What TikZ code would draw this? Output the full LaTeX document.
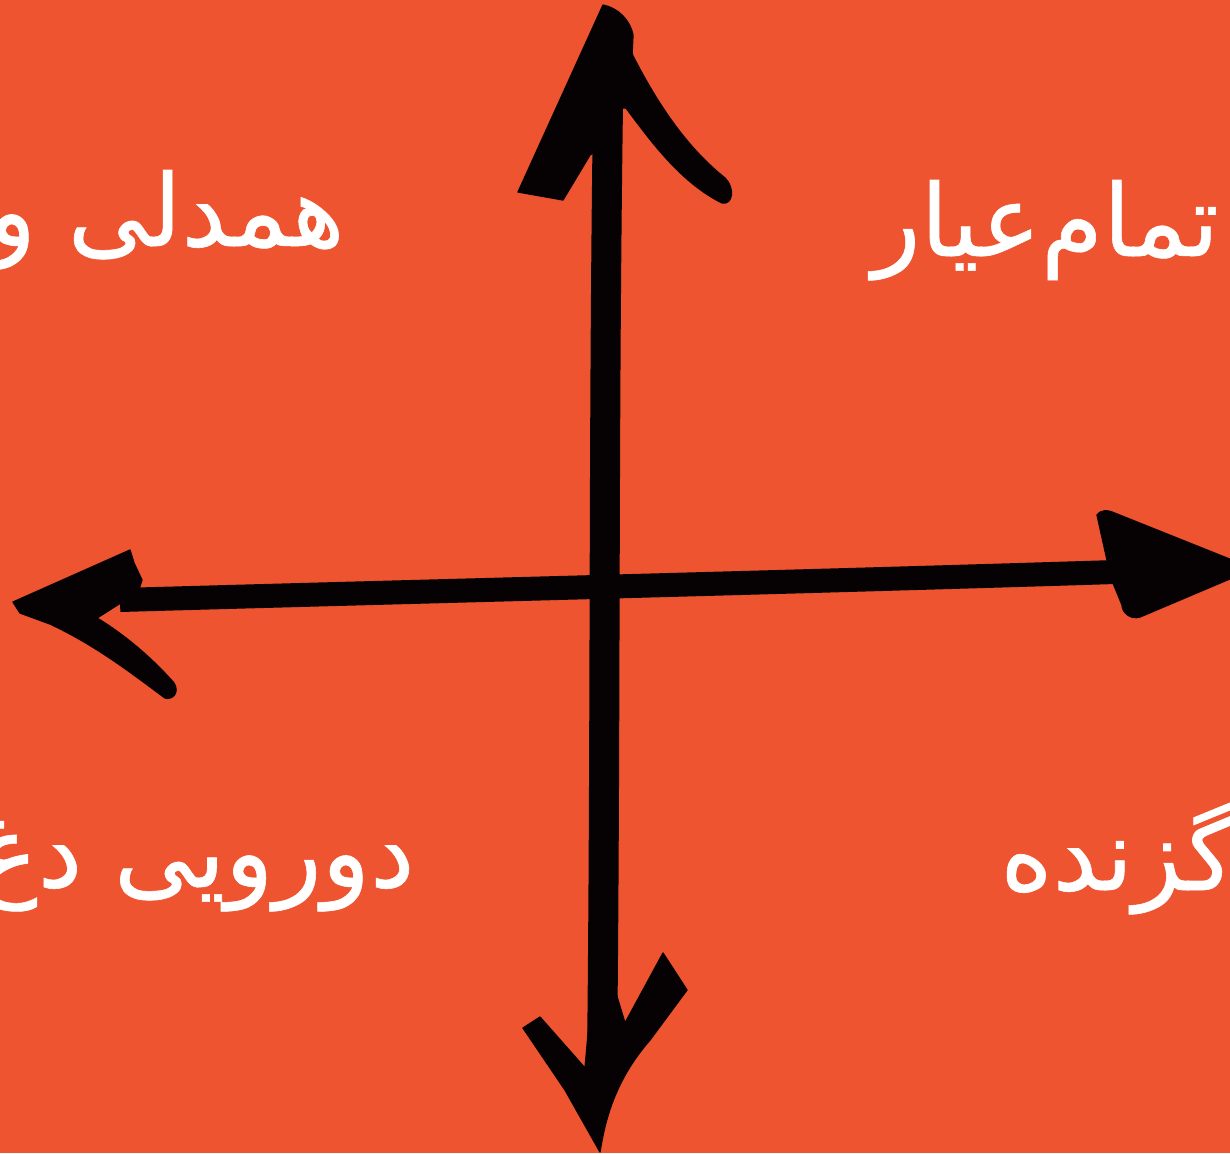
\documentclass[tikz,border=0pt]{standalone}
\usepackage{fontspec}
\newfontfamily\arabicfont[Script=Arabic,FakeBold=0.6]{DejaVu Sans}
\TeXXeTstate=1
\definecolor{bgorange}{HTML}{EF5430}
\definecolor{ink}{HTML}{060204}
\begin{document}
\begin{tikzpicture}[x=0.75pt,y=-0.75pt,
  head/.style={fill=ink,draw=ink,line width=1pt,line join=round},
  vshaft/.style={draw=ink,line width=22.5pt,line cap=butt},
  hshaft/.style={draw=ink,line width=18pt,line cap=butt},
  qtext/.style={text=white,font=\arabicfont\fontsize{75}{80}\selectfont,inner sep=0pt}]
\fill[bgorange] (0,0) rectangle (1230,1153);
\useasboundingbox (0,0) rectangle (1230,1153);
% texts
\node[qtext,anchor=base east] (tl) at (345,246) {\beginR همدلی و\endR};
\node[qtext,anchor=base west] (tr) at (872,256) {\beginR تمام‌عیار\endR};
\node[qtext,anchor=base east] (bl) at (415,887) {\beginR دورویی دغ\endR};
\node[qtext,anchor=base west] (br) at (1000,890) {\beginR گزنده\endR};
% shafts
\draw[vshaft] (609,40) .. controls (603,400) and (606,700) .. (602,1060);
\draw[hshaft] (120,600) .. controls (400,592) and (800,582) .. (1115,572);
% top head
\path[head] (603,5) .. controls (618,8) and (630,20) .. (633,35) -- (632,55) -- (612,140) -- (590,155) -- (563,200) -- (518,192) -- cycle;
\path[head] (630,50) .. controls (660,110) and (690,150) .. (725,178) .. controls (735,188) and (733,205) .. (722,203) .. controls (680,182) and (650,140) .. (626,108) -- (618,108) -- (620,50) -- cycle;
% left head
\path[head] (13,602) -- (130,550) -- (134,563) -- (142,580) -- (138,592) -- (97,618) .. controls (125,635) and (152,658) .. (174,683) .. controls (180,693) and (172,700) .. (165,698) .. controls (130,672) and (95,645) .. (50,624) -- (20,613) -- cycle;
% right head
\path[head] (1097,515) .. controls (1100,510) and (1108,510) .. (1112,512) -- (1232,560) -- (1232,578) -- (1140,617) .. controls (1130,620) and (1122,612) .. (1122,605) -- (1113,583) -- (1107,560) -- cycle;
% bottom head
\path[head] (592,990) -- (585,1068) -- (540,1017) -- (523,1028) -- (565,1090) -- (600,1152) .. controls (605,1120) and (615,1080) .. (650,1040) -- (687,990) -- (663,953) -- (625,1023) -- (615,990) -- cycle;
\end{tikzpicture}
\end{document}
